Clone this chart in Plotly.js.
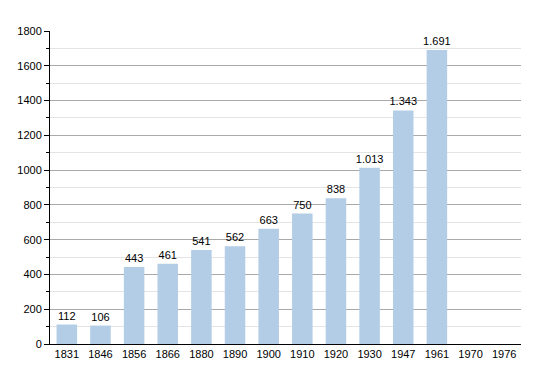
<!DOCTYPE html>
<html>
<head>
<meta charset="utf-8">
<script src="https://cdn.plot.ly/plotly-3.0.1.min.js"></script>
<style>html,body{margin:0;padding:0;background:#fff;}#chart{width:550px;height:373px;}</style>
</head>
<body>
<div id="chart"></div>
<script>
const years = ["1831","1846","1856","1866","1880","1890","1900","1910","1920","1930","1947","1961","1970","1976"];
const population = [112,106,443,461,541,562,663,750,838,1013,1343,1691,null,null];

function fmt(v){
  if (v === null) return "";
  return String(v).replace(/\B(?=(\d{3})+(?!\d))/g, ".");
}
const labels = population.map(fmt);

const trace = {
  type: "bar",
  x: years,
  y: population,
  text: labels,
  textposition: "outside",
  constraintext: "none",
  textfont: {family: "Liberation Sans, Arial, sans-serif", size: 11, color: "#000"},
  cliponaxis: false,
  marker: {color: "#b3cde6", line: {width: 0}},
  hoverinfo: "x+y"
};

const layout = {
  width: 550, height: 373,
  margin: {l: 50, r: 29, t: 31, b: 29, pad: 0},
  paper_bgcolor: "#fff", plot_bgcolor: "#fff",
  bargap: 0.39,
  showlegend: false,
  font: {family: "Liberation Sans, Arial, sans-serif", size: 11, color: "#000"},
  xaxis: {
    type: "category",
    showline: true, linecolor: "#000", linewidth: 1,
    ticks: "", showgrid: false, zeroline: false,
    tickfont: {size: 11, color: "#000"}
  },
  yaxis: {
    range: [0, 1800], dtick: 200, tick0: 0,
    showline: true, linecolor: "#000", linewidth: 1,
    ticks: "outside", ticklen: 5, tickcolor: "#000",
    showgrid: true, gridcolor: "#a9a9a9", gridwidth: 1,
    zeroline: false,
    tickfont: {size: 11, color: "#000"},
    minor: {dtick: 100, showgrid: true, gridcolor: "#e4e4e4", ticks: "outside", ticklen: 3, tickcolor: "#000"}
  }
};

Plotly.newPlot("chart", [trace], layout, {displayModeBar: false, staticPlot: true});
</script>
</body>
</html>
